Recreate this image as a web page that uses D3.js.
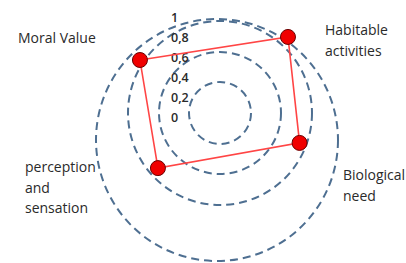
<!DOCTYPE html>
<html><head><meta charset="utf-8">
<script src="https://cdn.jsdelivr.net/npm/d3@7"></script>
<style>html,body{margin:0;padding:0;background:#fff;}svg{display:block;}</style>
</head><body>
<script>
// Data
const categories = ["Moral Value", "Habitable activities", "Biological need", "perception and sensation"];
const values = [0.96, 1.02, 0.85, 0.83];          // radial value of each point
const anglesDeg = [303.5, 41.8, 110.6, 228.4];     // direction of each category axis (deg, clockwise from north)
const tickValues = [0, 0.2, 0.4, 0.6, 0.8, 1];
const tickLabels = ["0", "0,2", "0,4", "0,6", "0,8", "1"];
const ringValues = [0.31, 0.61, 0.92, 1.21];
const ringShift = [0, 0, 0, 0.27];

const W = 406, H = 263;
const cx = 220, cy = 113;
const svg = d3.select("body").append("svg").attr("width", W).attr("height", H);
const r = d3.scaleLinear().domain([0, 1]).range([0, 100]);
const ang = d3.scaleLinear().domain([0, 360]).range([0, 2 * Math.PI]);

// rings
svg.selectAll("circle.ring").data(ringValues).join("circle")
  .attr("class", "ring")
  .attr("cx", (d, i) => cx - (i === 3 ? 3 : 0))
  .attr("cy", (d, i) => cy + r(ringShift[i]))
  .attr("r", d => r(d))
  .attr("fill", "none").attr("stroke", "#4e6f91").attr("stroke-width", 2)
  .attr("stroke-dasharray", "8,5");

// tick labels
svg.selectAll("text.tick").data(tickValues).join("text")
  .attr("class", "tick")
  .attr("x", 171).attr("y", d => cy - r(d) + 9)
  .attr("font-family", "'Open Sans', Lato, sans-serif").attr("font-size", 12.5).attr("font-weight", 600)
  .attr("fill", "#2a2a2a")
  .text((d, i) => tickLabels[i]);

const pts = values.map((v, i) => {
  const a = ang(anglesDeg[i]);
  return [cx + r(v) * Math.sin(a), cy - r(v) * Math.cos(a)];
});

svg.append("path")
  .attr("d", d3.line().curve(d3.curveLinearClosed)(pts))
  .attr("fill", "none").attr("stroke", "#ff4545").attr("stroke-width", 1.6);

svg.selectAll("circle.pt").data(pts).join("circle")
  .attr("class", "pt")
  .attr("cx", d => d[0]).attr("cy", d => d[1]).attr("r", 7.5)
  .attr("fill", "#f00000").attr("stroke", "#6a0000").attr("stroke-width", 1);

// category labels
const labelLines = [["Moral Value"], ["Habitable", "activities"], ["Biological", "need"], ["perception", "and", "sensation"]];
const labelPos = [[18, 43], [325, 35], [343, 180], [25, 172]];
labelLines.forEach((lines, i) => {
  const t = svg.append("text")
    .attr("font-family", "'Open Sans', Lato, sans-serif").attr("font-size", 14)
    .attr("fill", "#2a2a2a");
  lines.forEach((l, j) => {
    t.append("tspan").attr("x", labelPos[i][0]).attr("y", labelPos[i][1] + j * 20.5).text(l);
  });
});
</script>
</body></html>
